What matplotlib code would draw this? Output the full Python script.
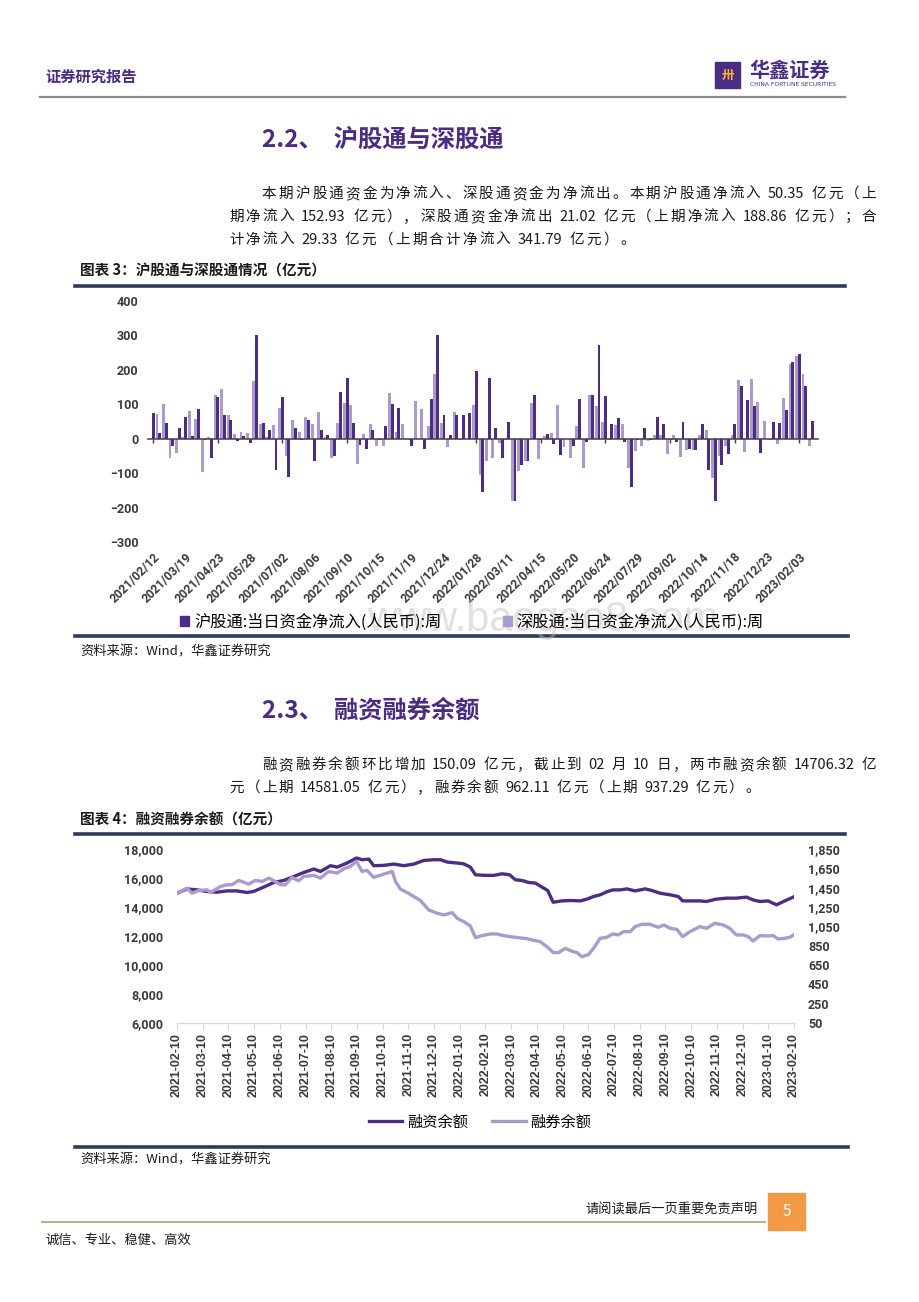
import re
import numpy as np
import matplotlib
matplotlib.use("Agg")
import matplotlib.pyplot as plt
from matplotlib.patches import Rectangle, Patch
from matplotlib.lines import Line2D
from matplotlib.ticker import FuncFormatter

plt.rcParams['font.family'] = ['Noto Sans CJK SC', 'DejaVu Sans']

DARK = '#4B2D83'
LIGHT = '#A99CCD'
PURPLE = '#4A2C82'
TXT = '#1a1a1a'
TICK = '#3a3a3a'

# ---------------- 图表3: 沪股通 / 深股通 weekly net inflow (亿元) ----------------
hgt = [75, 18, 45, -22, 32, 62, 8, 85, -3, -57,
       122, 68, 53, -8, 8, -13, 300, 45, 25, -92,
       120, -110, 30, -5, 55, -65, 25, 10, -50, 135,
       175, 45, -18, -30, 26, -3, 38, 102, 88, 0,
       -20, 0, -30, 115, 300, 70, 12, 68, 68, 75,
       198, -155, 175, 32, -55, 50, -182, -75, -65, 128,
       -5, 15, -15, -47, 0, -20, 115, -10, 128, 272,
       125, 43, 60, -10, -140, -5, 30, -3, 63, 43,
       -5, -10, 50, -30, -32, 42, -90, -180, -75, -45,
       42, 153, 112, 95, -42, 0, 48, 45, 82, 222,
       245, 152.93, 50.35]
sgt = [0, 72, 102, -55, -42, 5, 80, 58, -97, 5,
       126, 143, 68, 13, 20, 17, 168, 43, 5, 40,
       88, -50, 55, 20, 63, 42, 77, 5, -55, 45,
       103, 97, -72, 13, 42, -22, -22, 133, 20, 43,
       -5, 110, 87, 37, 188, 45, -25, 78, -5, 0,
       97, -105, -65, -55, -12, -5, -180, -95, -65, 103,
       -58, 8, 18, 98, -25, -55, 38, -85, 128, 95,
       50, -3, 40, 43, -85, -35, -20, -8, 10, 12,
       -45, 10, -52, -33, -33, 12, 25, -115, -50, -20,
       10, 170, -38, 172, 108, 52, -5, -15, 117, 218,
       240, 188.86, -21.02]
week_labels = ['2021/02/12', '2021/03/19', '2021/04/23', '2021/05/28', '2021/07/02',
               '2021/08/06', '2021/09/10', '2021/10/15', '2021/11/19', '2021/12/24',
               '2022/01/28', '2022/03/11', '2022/04/15', '2022/05/20', '2022/06/24',
               '2022/07/29', '2022/09/02', '2022/10/14', '2022/11/18', '2022/12/23',
               '2023/02/03']

# ---------------- 图表4: 融资余额 / 融券余额 (亿元), x = months since 2021-02-10 ----------------
rz_m = [0, 0.39, 0.78, 1.17, 1.56, 1.95, 2.33, 2.72, 2.98, 3.37, 3.76, 4.15, 4.54, 4.93,
        5.32, 5.58, 5.97, 6.23, 6.61, 6.98, 7.2, 7.46, 7.65, 8.04, 8.43, 8.82, 9.21, 9.6,
        9.99, 10.25, 10.51, 10.9, 11.15, 11.41, 11.61, 12.0, 12.32, 12.65, 12.94, 13.16,
        13.42, 13.68, 13.94, 14.2, 14.42, 14.63, 14.97, 15.3, 15.69, 15.94, 16.2, 16.46,
        16.72, 16.95, 17.24, 17.5, 17.82, 18.21, 18.47, 18.79, 19.18, 19.5, 19.67, 19.95,
        20.34, 20.6, 20.96, 21.38, 21.76, 22.15, 22.41, 22.67, 22.99, 23.32, 23.64, 24.0]
rz_v = [14950, 15250, 15180, 15070, 15020, 15110, 15110, 15000, 15070, 15370, 15690,
        15830, 16100, 16380, 16620, 16450, 16850, 16750, 17030, 17380, 17260, 17300,
        16850, 16870, 16960, 16850, 16960, 17210, 17260, 17260, 17100, 17030, 16980,
        16750, 16220, 16180, 16180, 16290, 16220, 15880, 15830, 15690, 15650, 15370,
        15140, 14330, 14420, 14450, 14420, 14540, 14720, 14840, 15050, 15180, 15180,
        15250, 15110, 15250, 15140, 14950, 14840, 14720, 14420, 14420, 14420, 14380,
        14540, 14610, 14610, 14680, 14490, 14380, 14420, 14150, 14420, 14706.32]
rq_m = [0, 0.39, 0.58, 0.84, 1.17, 1.3, 1.69, 1.95, 2.14, 2.4, 2.79, 3.05, 3.31, 3.57,
        3.89, 4.02, 4.22, 4.47, 4.73, 4.93, 5.32, 5.58, 5.9, 6.23, 6.49, 6.74, 6.98, 7.2,
        7.39, 7.65, 8.04, 8.37, 8.5, 8.69, 8.95, 9.21, 9.47, 9.79, 10.12, 10.38, 10.7,
        10.9, 11.15, 11.41, 11.61, 11.81, 12.19, 12.45, 12.65, 12.94, 13.29, 13.62, 13.94,
        14.13, 14.39, 14.63, 14.84, 15.1, 15.36, 15.56, 15.75, 16.01, 16.2, 16.46, 16.72,
        16.95, 17.17, 17.37, 17.63, 17.82, 18.08, 18.4, 18.72, 18.94, 19.18, 19.44, 19.67,
        19.95, 20.34, 20.6, 20.92, 21.25, 21.5, 21.76, 22.02, 22.22, 22.41, 22.67, 22.99,
        23.19, 23.38, 23.64, 23.83, 24.0]
rq_v = [1393, 1445, 1393, 1420, 1428, 1400, 1462, 1480, 1480, 1525, 1487, 1525, 1514,
        1549, 1504, 1480, 1480, 1556, 1521, 1566, 1577, 1549, 1618, 1601, 1646, 1670,
        1722, 1618, 1629, 1556, 1590, 1618, 1514, 1435, 1400, 1358, 1317, 1220, 1185,
        1168, 1192, 1133, 1099, 1054, 933, 950, 971, 971, 957, 943, 933, 922, 902, 891,
        839, 780, 777, 822, 794, 777, 735, 760, 822, 926, 937, 971, 961, 995, 995, 1047,
        1071, 1071, 1040, 1064, 1030, 1019, 943, 995, 1047, 1030, 1082, 1064, 1030, 961,
        961, 943, 898, 954, 950, 954, 919, 926, 937, 962.11]
month_labels = ['2021-02-10', '2021-03-10', '2021-04-10', '2021-05-10', '2021-06-10',
                '2021-07-10', '2021-08-10', '2021-09-10', '2021-10-10', '2021-11-10',
                '2021-12-10', '2022-01-10', '2022-02-10', '2022-03-10', '2022-04-10',
                '2022-05-10', '2022-06-10', '2022-07-10', '2022-08-10', '2022-09-10',
                '2022-10-10', '2022-11-10', '2022-12-10', '2023-01-10', '2023-02-10']

W, H = 920, 1302
fig = plt.figure(figsize=(W / 100, H / 100), dpi=100)
fig.patch.set_facecolor('white')


def fx(px):
    return px / W


def fy(py):
    return 1 - py / H


def hline(y, x0, x1, color, lw):
    fig.add_artist(Line2D([fx(x0), fx(x1)], [fy(y), fy(y)], color=color, lw=lw,
                          transform=fig.transFigure))


def justified(s, x0, x1, y, size, gap=None):
    # spread a paragraph line over x0..x1 like the report's justified text;
    # with gap given the line is left aligned using that spacing
    r = fig.canvas.get_renderer()
    toks = re.findall(r'[0-9A-Za-z.]+|\s|\S', s)
    widths = []
    for t in toks:
        if t.isspace():
            widths.append(size * 0.3)
            continue
        tt = fig.text(0, 0, t, fontsize=size)
        widths.append(tt.get_window_extent(r).width)
        tt.remove()
    if gap is None:
        gap = (x1 - x0 - sum(widths)) / (len(toks) - 1)
    x = x0
    for t, w in zip(toks, widths):
        if not t.isspace():
            fig.text(fx(x), fy(y), t, fontsize=size, color=TXT, ha='left', va='center')
        x += w + gap
    return gap


# ---------------- page header ----------------
fig.text(fx(45), fy(77), '证券研究报告', fontsize=11, fontweight='bold', color=PURPLE, va='center')
fig.add_artist(Rectangle((fx(715), fy(88)), fx(25), 26 / H, color=PURPLE, transform=fig.transFigure))
fig.text(fx(727.5), fy(75), '卅', fontsize=9, fontweight='bold', color='#F2B233', ha='center', va='center')
fig.text(fx(749), fy(70), '华鑫证券', fontsize=14.5, fontweight='bold', color=PURPLE, va='center')
fig.text(fx(750), fy(85), 'CHINA FORTUNE SECURITIES', fontsize=4.3, color=PURPLE, va='center',
         family='DejaVu Sans')
hline(97, 40, 845, '#8C8C8C', 1.6)

# ---------------- section 2.2 ----------------
fig.text(fx(262), fy(140), '2.2、  沪股通与深股通', fontsize=17.5, fontweight='bold', color=PURPLE, va='center')
justified('本期沪股通资金为净流入、深股通资金为净流出。本期沪股通净流入 50.35 亿元（上', 262, 876, 194, 10.5)
g = justified('期净流入 152.93 亿元），深股通资金净流出 21.02 亿元（上期净流入 188.86 亿元）；合', 229, 876, 217, 10.5)
justified('计净流入 29.33 亿元（上期合计净流入 341.79 亿元）。', 229, 876, 240, 10.5, gap=g)
fig.text(fx(80), fy(271), '图表 3：沪股通与深股通情况（亿元）', fontsize=10.5, fontweight='bold', color=TXT, va='center')
hline(286, 75, 845, '#2F3A5A', 2.6)

# ---------------- chart 3: bars ----------------
ax = fig.add_axes([fx(148), fy(542), fx(818 - 148), (542 - 301) / H])
idx = np.arange(len(hgt))
ax.bar(idx - 0.42, sgt, width=0.45, color=LIGHT, zorder=2)
ax.bar(idx, hgt, width=0.45, color=DARK, zorder=3)
ax.set_xlim(-0.82, 102.9)
ax.set_ylim(-300, 400)
ax.set_yticks(np.arange(-300, 401, 100))
for s in ['top', 'right', 'left']:
    ax.spines[s].set_visible(False)
ax.spines['bottom'].set_position(('data', 0))
ax.spines['bottom'].set_color('#404040')
ax.spines['bottom'].set_linewidth(1.1)
ax.spines['bottom'].set_zorder(4)
ax.set_xticks(np.arange(0, len(hgt), 10))
ax.tick_params(axis='x', length=3, width=1, color='#404040', labelbottom=False)
ax.tick_params(axis='y', length=0, pad=7)
for lab in ax.get_yticklabels():
    lab.set_family('Roboto')
    lab.set_fontweight('bold')
    lab.set_fontsize(9)
    lab.set_color(TICK)
sec = ax.secondary_xaxis(0.0)
sec.set_xticks(np.arange(0, len(week_labels) * 5, 5))
sec.set_xticklabels(week_labels, rotation=45, ha='right', rotation_mode='anchor',
                    family='Roboto', fontweight='bold', fontsize=8.7, color=TICK)
sec.tick_params(length=0, pad=6)
sec.spines['bottom'].set_visible(False)

handles = [Patch(color=DARK), Patch(color=LIGHT)]
fig.legend(handles, ['沪股通:当日资金净流入(人民币):周', '深股通:当日资金净流入(人民币):周'],
           loc='center', bbox_to_anchor=(fx(472), fy(622)), ncol=2, frameon=False,
           fontsize=11.7, handlelength=0.55, handleheight=0.55, handletextpad=0.3,
           columnspacing=3.8)
hline(636, 75, 848, '#2F3A5A', 2.6)
fig.text(fx(80), fy(652), '资料来源：Wind，华鑫证券研究', fontsize=9.5, color=TXT, va='center')

# ---------------- section 2.3 ----------------
fig.text(fx(262), fy(711), '2.3、  融资融券余额', fontsize=17.5, fontweight='bold', color=PURPLE, va='center')
g = justified('融资融券余额环比增加 150.09 亿元，截止到 02 月 10 日，两市融资余额 14706.32 亿', 262, 876, 765, 10.5)
justified('元（上期 14581.05 亿元），融券余额 962.11 亿元（上期 937.29 亿元）。', 229, 876, 788, 10.5, gap=g)
fig.text(fx(80), fy(820), '图表 4：融资融券余额（亿元）', fontsize=10.5, fontweight='bold', color=TXT, va='center')
hline(834, 75, 845, '#2F3A5A', 2.6)

# ---------------- chart 4: lines ----------------
ax2 = fig.add_axes([fx(177), fy(1023), fx(794 - 177), (1023 - 849) / H])
l1, = ax2.plot(rz_m, rz_v, color=DARK, lw=2.4, solid_joinstyle='round')
ax2r = ax2.twinx()
l2, = ax2r.plot(rq_m, rq_v, color=LIGHT, lw=2.4, solid_joinstyle='round')
ax2.set_xlim(0, 24)
ax2.set_ylim(6000, 18000)
ax2r.set_ylim(50, 1850)
ax2.set_yticks(np.arange(6000, 18001, 2000))
ax2r.set_yticks(np.arange(50, 1851, 200))
comma = FuncFormatter(lambda v, p: f'{v:,.0f}')
ax2.yaxis.set_major_formatter(comma)
ax2r.yaxis.set_major_formatter(comma)
for a in (ax2, ax2r):
    for s in ['top', 'right', 'left']:
        a.spines[s].set_visible(False)
    a.spines['bottom'].set_color('#D9D9D9')
    a.tick_params(axis='y', length=0, pad=10)
    for lab in a.get_yticklabels():
        lab.set_family('Roboto')
        lab.set_fontweight('bold')
        lab.set_fontsize(9)
        lab.set_color(TICK)
ax2.set_xticks(range(len(month_labels)))
ax2.set_xticklabels(month_labels, rotation=90, family='Liberation Sans', fontweight='bold',
                    fontsize=9, color=TICK)
ax2.tick_params(axis='x', length=4, color='#D9D9D9', pad=3)

fig.legend([l1, l2], ['融资余额', '融券余额'], loc='center', bbox_to_anchor=(fx(480), fy(1122)),
           ncol=2, frameon=False, fontsize=11, handlelength=2.2, handletextpad=0.3,
           columnspacing=1.6)
hline(1147, 75, 848, '#2F3A5A', 2.6)
fig.text(fx(80), fy(1160), '资料来源：Wind，华鑫证券研究', fontsize=9.5, color=TXT, va='center')

# ---------------- footer ----------------
fig.text(fx(758), fy(1210), '请阅读最后一页重要免责声明', fontsize=9.5, color=TXT, ha='right', va='center')
fig.add_artist(Rectangle((fx(768), fy(1230)), fx(37), 37 / H, color='#F39A46', transform=fig.transFigure))
fig.text(fx(786.5), fy(1211), '5', fontsize=11, color='white', ha='center', va='center')
hline(1222, 42, 765, '#A8AE84', 1.3)
fig.text(fx(45), fy(1240), '诚信、专业、稳健、高效', fontsize=9.5, color=TXT, va='center')

# watermark (sits over the legend in the source page too)
fig.text(fx(543), fy(620), 'www.baogao8.com', fontsize=30, color='#BDBDBD', alpha=0.45,
         ha='center', va='center', family='Liberation Sans')

fig.savefig('out.png', dpi=100)
